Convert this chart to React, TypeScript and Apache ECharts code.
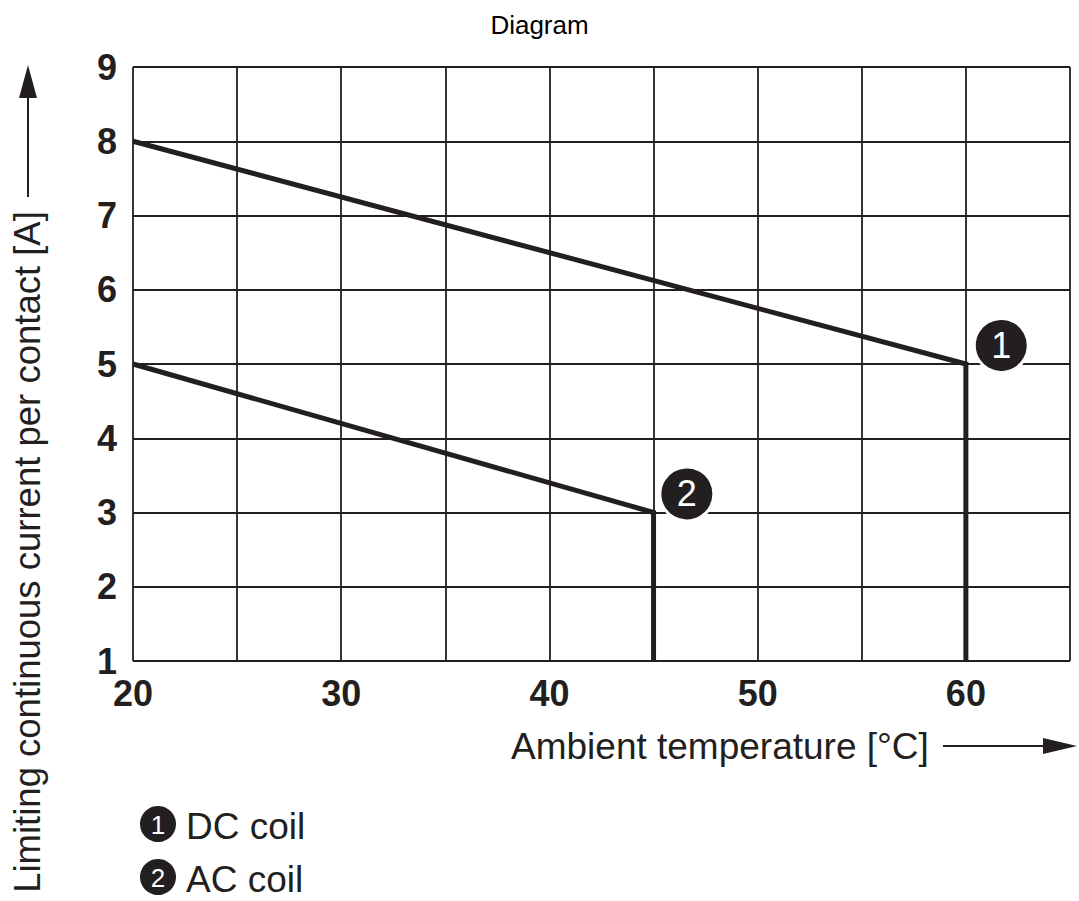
import React, { useEffect, useRef } from "react";
import * as echarts from "echarts";

const dcTemp = [20, 60, 60];
const dcCurrent = [8, 5, 1];
const acTemp = [20, 45, 45];
const acCurrent = [5, 3, 1];
const markerTemp = [61.7, 46.6];
const markerCurrent = [5.25, 3.25];
const markerLabels = ["1", "2"];
const legendLabels = ["DC coil", "AC coil"];

const INK = "#231f20";
const FONT = "'Liberation Sans', Arial, Helvetica, sans-serif";

export default function App() {
  const ref = useRef<HTMLDivElement>(null);
  useEffect(() => {
    if (!ref.current) return;
    const chart = echarts.init(ref.current, null, { renderer: "svg" });
    const zip = (a: number[], b: number[]) => a.map((v, i) => [v, b[i]]);
    chart.setOption({
      animation: false,
      backgroundColor: "#ffffff",
      textStyle: { fontFamily: FONT },
      grid: { left: 133, top: 67, right: 9, bottom: 240 },
      xAxis: {
        type: "value",
        min: 20,
        max: 65,
        interval: 5,
        axisLine: { show: false },
        axisTick: { show: false },
        splitLine: { show: true, lineStyle: { color: INK, width: 1.8 } },
        axisLabel: {
          margin: 14,
          fontSize: 36,
          fontWeight: "bold",
          color: INK,
          fontFamily: FONT,
          formatter: (v: number) => (v % 10 === 0 && v < 65 ? String(v) : ""),
        },
      },
      yAxis: {
        type: "value",
        min: 1,
        max: 9,
        interval: 1,
        axisLine: { show: false },
        axisTick: { show: false },
        splitLine: { show: true, lineStyle: { color: INK, width: 1.8 } },
        axisLabel: {
          margin: 16,
          fontSize: 36,
          fontWeight: "bold",
          color: INK,
          fontFamily: FONT,
        },
      },
      series: [
        {
          type: "line",
          data: zip(dcTemp, dcCurrent),
          showSymbol: false,
          symbol: "none",
          lineStyle: { color: INK, width: 5, join: "miter" },
          z: 3,
        },
        {
          type: "line",
          data: zip(acTemp, acCurrent),
          showSymbol: false,
          symbol: "none",
          lineStyle: { color: INK, width: 5, join: "miter" },
          z: 3,
        },
        {
          type: "scatter",
          data: markerTemp.map((t, i) => ({
            value: [t, markerCurrent[i]],
            label: { formatter: markerLabels[i] },
          })),
          symbol: "circle",
          symbolSize: 54,
          itemStyle: { color: INK, borderColor: "#ffffff", borderWidth: 3, opacity: 1 },
          label: {
            show: true,
            position: "inside",
            color: "#ffffff",
            fontSize: 36,
            fontFamily: FONT,
          },
          z: 5,
        },
      ],
      graphic: [
        {
          type: "text",
          left: "center",
          top: 12,
          style: { text: "Diagram", fill: "#000", font: `26px ${FONT}` },
        },
        {
          type: "text",
          x: 511,
          y: 746,
          style: {
            text: "Ambient temperature [°C]",
            fill: INK,
            font: `37px ${FONT}`,
            verticalAlign: "middle",
          },
        },
        {
          type: "line",
          shape: { x1: 943, y1: 746, x2: 1045, y2: 746 },
          style: { stroke: INK, lineWidth: 2 },
        },
        {
          type: "polygon",
          shape: { points: [[1043, 738], [1077, 746], [1043, 754]] },
          style: { fill: INK },
        },
        {
          type: "text",
          x: 27,
          y: 552,
          rotation: Math.PI / 2,
          style: {
            text: "Limiting continuous current per contact [A]",
            fill: INK,
            font: `36.5px ${FONT}`,
            align: "center",
            verticalAlign: "middle",
          },
        },
        {
          type: "line",
          shape: { x1: 28, y1: 197, x2: 28, y2: 96 },
          style: { stroke: INK, lineWidth: 2 },
        },
        {
          type: "polygon",
          shape: { points: [[19, 98], [28, 65], [37, 98]] },
          style: { fill: INK },
        },
        ...legendLabels.flatMap((lab, i) => {
          const cy = 824 + i * 53;
          return [
            {
              type: "circle",
              shape: { cx: 158, cy, r: 18 },
              style: { fill: INK },
            },
            {
              type: "text",
              x: 158,
              y: cy + 1,
              style: {
                text: markerLabels[i],
                fill: "#ffffff",
                font: `26px ${FONT}`,
                align: "center",
                verticalAlign: "middle",
              },
            },
            {
              type: "text",
              x: 186,
              y: cy + 2,
              style: {
                text: lab,
                fill: INK,
                font: `37px ${FONT}`,
                verticalAlign: "middle",
              },
            },
          ];
        }),
      ],
    });
    return () => chart.dispose();
  }, []);
  return (
    <div
      ref={ref}
      style={{ position: "absolute", left: 0, top: 0, width: 1079, height: 901, background: "#fff" }}
    />
  );
}
